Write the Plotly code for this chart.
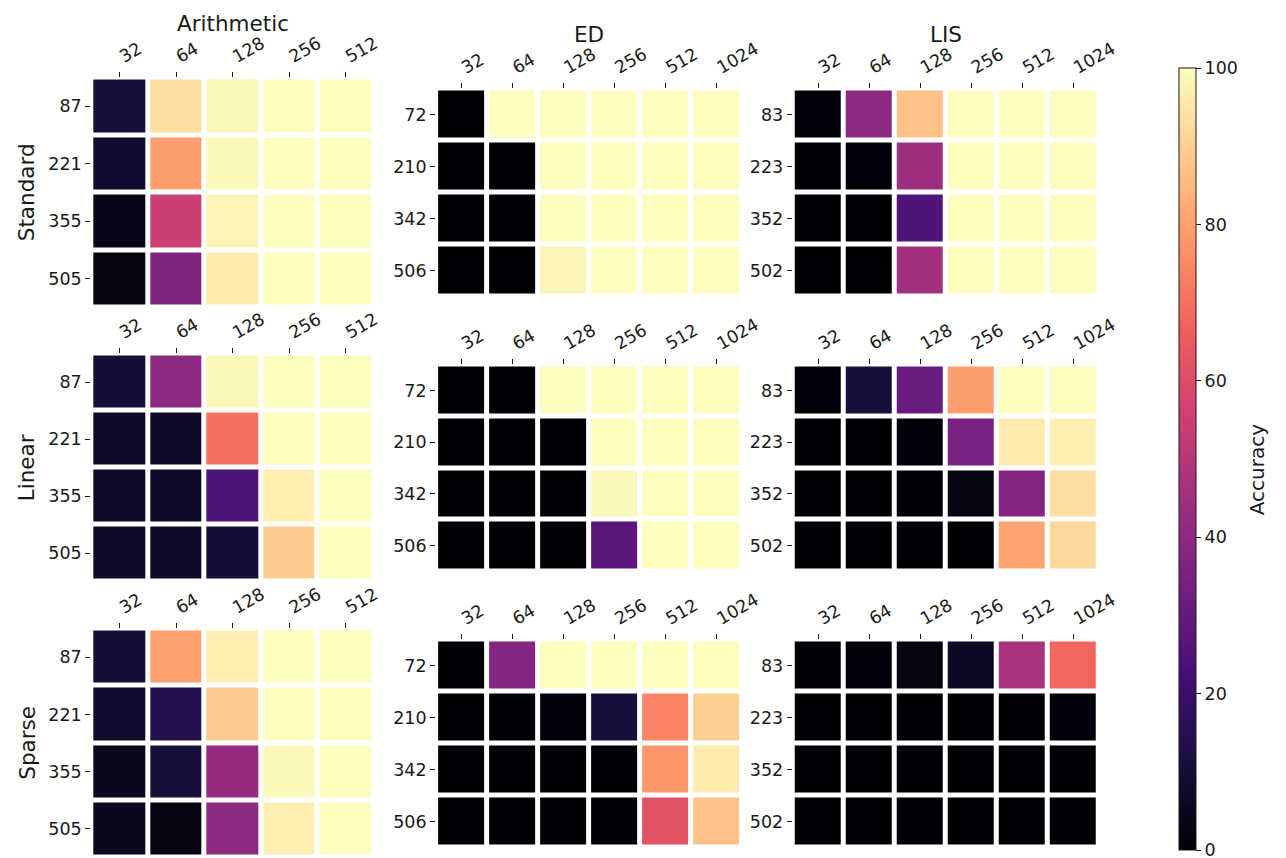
import plotly.graph_objects as go

W, H = 1286, 858

tasks = ["Arithmetic", "ED", "LIS"]
schemes = ["Standard", "Linear", "Sparse"]

arith_x = ["32", "64", "128", "256", "512"]
ed_x = ["32", "64", "128", "256", "512", "1024"]
lis_x = ["32", "64", "128", "256", "512", "1024"]
arith_y = ["87", "221", "355", "505"]
ed_y = ["72", "210", "342", "506"]
lis_y = ["83", "223", "352", "502"]

std_arith = [[11, 93, 99, 100, 100],
             [8, 79, 99, 100, 100],
             [4, 55, 98, 100, 100],
             [3, 37, 96, 100, 100]]
std_ed = [[0, 100, 100, 100, 100, 100],
          [0, 0, 100, 100, 100, 100],
          [0, 0, 100, 100, 100, 100],
          [0, 0, 98, 100, 100, 100]]
std_lis = [[1, 40, 87, 100, 100, 100],
           [0, 1, 44, 100, 100, 100],
           [0, 0, 25, 100, 100, 100],
           [0, 0, 45, 100, 100, 100]]

lin_arith = [[10, 40, 99, 100, 100],
             [7, 7, 70, 100, 100],
             [7, 7, 25, 97, 100],
             [7, 7, 10, 89, 100]]
lin_ed = [[0, 0, 100, 100, 100, 100],
          [0, 0, 0, 100, 100, 100],
          [0, 0, 0, 99, 100, 100],
          [0, 0, 0, 28, 100, 100]]
lin_lis = [[1, 11, 31, 79, 100, 100],
           [0, 0, 1, 35, 96, 97],
           [0, 0, 0, 3, 38, 93],
           [0, 0, 0, 0, 81, 92]]

spa_arith = [[10, 80, 97, 100, 100],
             [8, 14, 89, 100, 100],
             [5, 11, 42, 99, 100],
             [5, 3, 40, 97, 100]]
spa_ed = [[0, 38, 100, 100, 100, 100],
          [0, 0, 1, 11, 74, 90],
          [0, 0, 0, 0, 78, 96],
          [0, 0, 0, 0, 62, 87]]
spa_lis = [[0, 1, 3, 6, 47, 68],
           [0, 0, 0, 0, 0, 1],
           [0, 0, 0, 0, 0, 0],
           [0, 0, 0, 0, 0, 0]]

grid = [[std_arith, std_ed, std_lis],
        [lin_arith, lin_ed, lin_lis],
        [spa_arith, spa_ed, spa_lis]]
xcats = [arith_x, ed_x, lis_x]
ycats = [arith_y, ed_y, lis_y]

# pixel layout (visible cell extents), padded by half gap
GAP = 5
col_px = [(87, 369), (437, 743), (799, 1105)]
row_px_arith = [(72, 297), (348, 571), (623, 847)]
row_px_other = [(83, 286), (359, 561), (634, 837)]

FONT = "DejaVu Sans"
TXT = "#1a1a1a"
fig = go.Figure()
layout = {}
k = 0
for r in range(3):
    for c in range(3):
        k += 1
        xa = "x" if k == 1 else f"x{k}"
        ya = "y" if k == 1 else f"y{k}"
        fig.add_trace(go.Heatmap(
            z=grid[r][c], x=xcats[c], y=ycats[c],
            coloraxis="coloraxis", xgap=GAP, ygap=GAP,
            xaxis=xa, yaxis=ya,
        ))
        x0, x1 = col_px[c]
        y0, y1 = (row_px_arith if c == 0 else row_px_other)[r]
        x0 -= GAP / 2; x1 += GAP / 2
        y0 -= GAP / 2; y1 += GAP / 2
        xname = "xaxis" if k == 1 else f"xaxis{k}"
        yname = "yaxis" if k == 1 else f"yaxis{k}"
        layout[xname] = dict(
            domain=[x0 / W, x1 / W], anchor=ya, side="top", type="category",
            tickangle=-30, ticks="outside", ticklen=5, tickwidth=1, tickcolor=TXT,
            showgrid=False, zeroline=False, showline=False,
            tickfont=dict(family=FONT, size=17.5, color=TXT),
        )
        layout[yname] = dict(
            domain=[1 - y1 / H, 1 - y0 / H], anchor=xa, type="category",
            autorange="reversed", ticks="outside", ticklen=5, tickwidth=1, tickcolor=TXT,
            showgrid=False, zeroline=False, showline=False,
            tickfont=dict(family=FONT, size=17.5, color=TXT),
        )

annotations = []
title_pos = [(228, 15), (590, 27), (952, 27)]
for t, (px, py) in zip(tasks, title_pos):
    annotations.append(dict(text=t, x=px / W, y=1 - py / H, xref="paper", yref="paper",
                            showarrow=False, xanchor="center", yanchor="middle",
                            font=dict(family=FONT, size=21.5, color=TXT)))
for s, (a, b) in zip(schemes, row_px_arith):
    annotations.append(dict(text=s, x=19 / W, y=1 - ((a + b) / 2) / H, xref="paper", yref="paper",
                            showarrow=False, xanchor="center", yanchor="middle", textangle=-90,
                            font=dict(family=FONT, size=21.5, color=TXT)))
# colorbar label
annotations.append(dict(text="Accuracy", x=1268 / W, y=1 - 462 / H, xref="paper", yref="paper",
                        showarrow=False, xanchor="center", yanchor="middle", textangle=-90,
                        font=dict(family=FONT, size=20, color=TXT)))

fig.update_layout(
    width=W, height=H, margin=dict(l=0, r=0, t=0, b=0),
    paper_bgcolor="white", plot_bgcolor="white",
    annotations=annotations,
    coloraxis=dict(
        colorscale="Magma", cmin=0, cmax=100,
        colorbar=dict(
            x=1189 / W, xanchor="left", y=1 - 60 / H, yanchor="top",
            len=782, lenmode="pixels", thickness=17, thicknessmode="pixels",
            xpad=0, ypad=0, outlinewidth=1, outlinecolor=TXT,
            ticks="outside", ticklen=5, tickcolor=TXT, tickvals=[0, 20, 40, 60, 80, 100],
            tickfont=dict(family=FONT, size=17.5, color=TXT),
        ),
    ),
    **layout,
)

fig.write_html("out.html")
